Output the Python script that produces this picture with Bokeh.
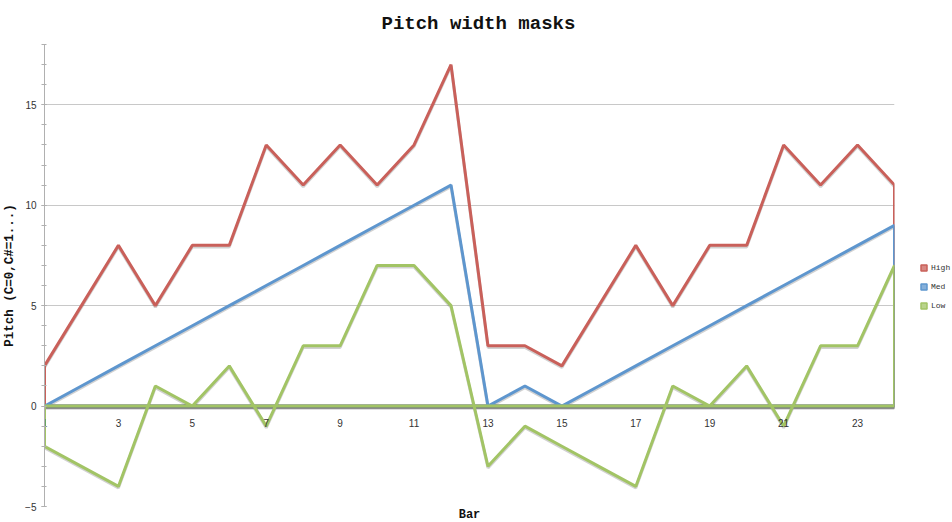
from bokeh.plotting import figure
from bokeh.models import (Range1d, LinearAxis, FixedTicker, Legend, LegendItem,
                          ColumnDataSource)
from bokeh.embed import file_html
from bokeh.resources import INLINE

# ---- data ----
bars = list(range(1, 25))
high = [2, 5, 8, 5, 8, 8, 13, 11, 13, 11, 13, 17, 3, 3, 2, 5, 8, 5, 8, 8, 13, 11, 13, 11]
med = [0, 1, 2, 3, 4, 5, 6, 7, 8, 9, 10, 11, 0, 1, 0, 1, 2, 3, 4, 5, 6, 7, 8, 9]
low = [-2, -3, -4, 1, 0, 2, -1, 3, 3, 7, 7, 5, -3, -1, -2, -3, -4, 1, 0, 2, -1, 3, 3, 7]
series_names = ["High", "Med", "Low"]
series_colors = ["#C9605A", "#5E96CE", "#A2C465"]
x_ticks = [1, 3, 5, 7, 9, 11, 13, 15, 17, 19, 21, 23]
y_ticks = [-5, 0, 5, 10, 15]
y_min, y_max = -5, 18

p = figure(frame_width=850, frame_height=462, output_backend="svg", toolbar_location=None,
           x_range=Range1d(bars[0], bars[-1]), y_range=Range1d(y_min, y_max),
           title="Pitch width masks",
           min_border_left=38, min_border_right=0, min_border_top=0, min_border_bottom=0)
p.outline_line_color = None
p.background_fill_color = "white"
p.border_fill_color = "white"

p.title.text_font = "Liberation Mono"
p.title.text_font_size = "19px"
p.title.text_font_style = "bold"
p.title.align = "left"
p.title.offset = 337
p.title.text_color = "#111111"
p.title.standoff = 20

# y axis
ya = p.yaxis[0]
ya.ticker = FixedTicker(ticks=y_ticks, minor_ticks=list(range(y_min, y_max + 1)))
ya.axis_label = "Pitch (C=0,C#=1...)"
ya.axis_label_text_font = "Liberation Mono"
ya.axis_label_text_font_size = "12.5px"
ya.axis_label_text_font_style = "bold"
ya.axis_label_text_color = "#111111"
ya.axis_label_standoff = 5
ya.major_label_text_font = "Liberation Sans"
ya.major_label_text_font_size = "10px"
ya.major_label_text_color = "#333333"
ya.major_label_standoff = 5
ya.axis_line_color = "#b0b0b0"
ya.major_tick_line_color = "#b0b0b0"
ya.minor_tick_line_color = "#b0b0b0"
ya.major_tick_in = 2
ya.major_tick_out = 3
ya.minor_tick_in = 2
ya.minor_tick_out = 3

p.ygrid.ticker = FixedTicker(ticks=y_ticks)
p.ygrid.grid_line_color = "#c8c8c8"
p.xgrid.grid_line_color = None

# x axis with labels at y = 0
xa = p.xaxis[0]
xa.ticker = FixedTicker(ticks=x_ticks)
xa.fixed_location = 0
xa.axis_line_color = None
xa.major_tick_line_color = None
xa.minor_tick_line_color = None
xa.major_label_text_font = "Liberation Sans"
xa.major_label_text_font_size = "10px"
xa.major_label_text_color = "#333333"
xa.major_label_standoff = 7

# axis carrying the "Bar" title at the bottom
bar_axis = LinearAxis(ticker=FixedTicker(ticks=[]), axis_label="Bar",
                      axis_label_text_font="Liberation Mono", axis_label_text_font_size="12px",
                      axis_label_text_font_style="bold", axis_label_text_color="#111111",
                      axis_label_standoff=1, axis_line_color=None,
                      major_tick_line_color=None, minor_tick_line_color=None)
p.add_layout(bar_axis, "below")

# series as closed area outlines with baseline at 0
items = []
for name, vals, col in zip(series_names, [high, med, low], series_colors):
    xs = [bars[0]] + bars + [bars[-1], bars[0]]
    ys = [0] + vals + [0, 0]
    p.line(xs, [v - 0.08 for v in ys], line_color="#000000", line_alpha=0.18, line_width=3)
    p.line(xs, ys, line_color=col, line_width=3)
    src = ColumnDataSource(dict(x=bars, y=vals))
    # zero-size markers on the plot; only the legend swatch is visible
    r = p.scatter("x", "y", source=src, marker="square", size=0,
                  fill_color=col, fill_alpha=0.75, line_color=col, line_width=1.5)
    items.append(LegendItem(label=name, renderers=[r]))

legend = Legend(items=items, location="center_left",
                title=" ", title_text_font_size="8px", title_standoff=14,
                label_text_font="Liberation Mono", label_text_font_size="8px",
                label_text_color="#333333", glyph_width=15, glyph_height=15,
                label_standoff=0, label_height=15, label_width=10, spacing=4,
                padding=20, margin=22,
                border_line_color=None, background_fill_alpha=0)
p.add_layout(legend, "right")

open("out.html", "w").write(file_html(p, INLINE))
